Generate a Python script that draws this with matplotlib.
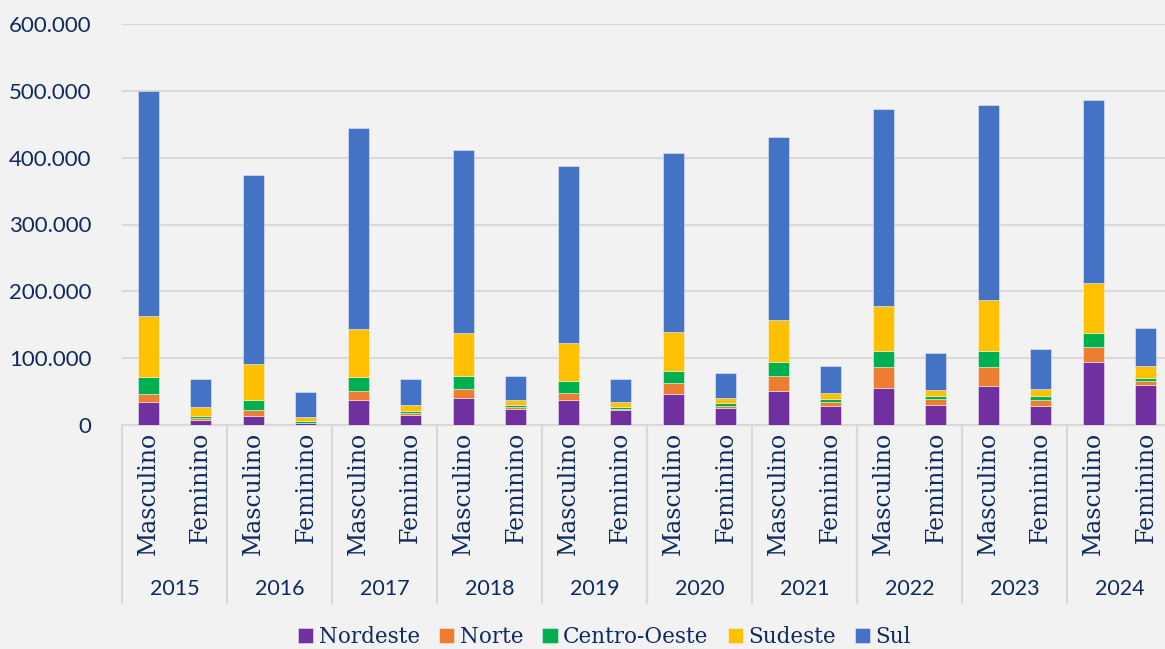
import matplotlib
matplotlib.use("Agg")
import matplotlib.pyplot as plt
import numpy as np

plt.rcParams['font.family'] = ['Lato', 'DejaVu Sans']

years = ['2015', '2016', '2017', '2018', '2019', '2020', '2021', '2022', '2023', '2024']
sexes = ['Masculino', 'Feminino']
regions = ['Nordeste', 'Norte', 'Centro-Oeste', 'Sudeste', 'Sul']
colors = ['#7030a0', '#ed7d31', '#00b050', '#ffc000', '#4472c4']

# values per bar (Masculino, Feminino for each year), in units
nordeste = [34000, 8000, 14000, 2500, 38000, 15500, 41000, 24500, 38000, 22000,
            47000, 26000, 51000, 29000, 56000, 29500, 58000, 29000, 95000, 60000]
norte = [13000, 2500, 8000, 1000, 13000, 3000, 13000, 2000, 10000, 2500,
         16000, 3000, 22000, 5000, 31000, 9000, 29000, 8500, 22000, 6000]
centro_oeste = [25000, 3500, 16000, 3000, 21000, 3000, 20000, 3500, 18000, 3000,
                18000, 4000, 22000, 5000, 23000, 5500, 23000, 6500, 20000, 5000]
sudeste = [91000, 12500, 54000, 6000, 71000, 9000, 63000, 8000, 56000, 6500,
           58000, 7500, 62000, 8500, 68000, 9000, 77000, 10000, 76000, 18000]
sul = [337000, 43000, 282000, 36500, 302000, 38500, 274000, 36000, 266000, 35000,
       268000, 37500, 274000, 41500, 295000, 54000, 292000, 59000, 273000, 56000]

series = [nordeste, norte, centro_oeste, sudeste, sul]
text_color = '#0f2a5f'
grid_color = '#d9d9d9'
bg = '#f2f2f2'
serif = ['DejaVu Serif']

fig = plt.figure(figsize=(11.65, 6.49), dpi=100, facecolor=bg)
ax = fig.add_axes([122 / 1165, 1 - 425 / 649, 1050 / 1165, 401 / 649])
ax.set_facecolor(bg)

x = np.arange(len(years) * len(sexes))
bottom = np.zeros(len(x))
for name, vals, c in zip(regions, series, colors):
    ax.bar(x, vals, width=0.4, bottom=bottom, color=c, label=name,
           edgecolor='#ffffff80', linewidth=0.6, zorder=3)
    bottom += np.array(vals)

ax.set_xlim(-0.5, len(x) - 0.5)
ax.set_ylim(0, 600000)
ax.set_yticks(np.arange(0, 600001, 100000))
ax.set_yticklabels([f'{int(v):,}'.replace(',', '.') for v in ax.get_yticks()])
ax.yaxis.grid(True, color=grid_color, linewidth=1.5, zorder=0)
ax.tick_params(axis='y', length=0, pad=22, labelsize=16, labelcolor=text_color)

ax.set_xticks(x)
ax.set_xticklabels(sexes * len(years), rotation=90, va='top', ha='center',
                   family=serif)
ax.tick_params(axis='x', length=0, pad=5, labelsize=17, labelcolor=text_color)

for s in ['top', 'right', 'left']:
    ax.spines[s].set_visible(False)
ax.spines['bottom'].set_color(grid_color)
ax.spines['bottom'].set_linewidth(1.5)

# group separators and year labels
trans = ax.get_xaxis_transform()
for i in range(len(years) + 1):
    xb = i * 2 - 0.5
    ax.plot([xb, xb], [0, -0.445], transform=trans, color=grid_color,
            linewidth=1.5, clip_on=False)
for i, yr in enumerate(years):
    ax.text(i * 2 + 0.5, -0.41, yr, transform=trans, ha='center', va='center',
            fontsize=15.5, color=text_color)

leg = fig.legend(loc='center', bbox_to_anchor=(0.519, 1 - 637 / 649), ncol=5,
                 frameon=False, handlelength=0.7, handleheight=0.7,
                 handletextpad=0.25, columnspacing=0.9,
                 prop={'family': serif, 'size': 15.5})
for t in leg.get_texts():
    t.set_color(text_color)

fig.savefig('out.png', dpi=100, facecolor=bg)
